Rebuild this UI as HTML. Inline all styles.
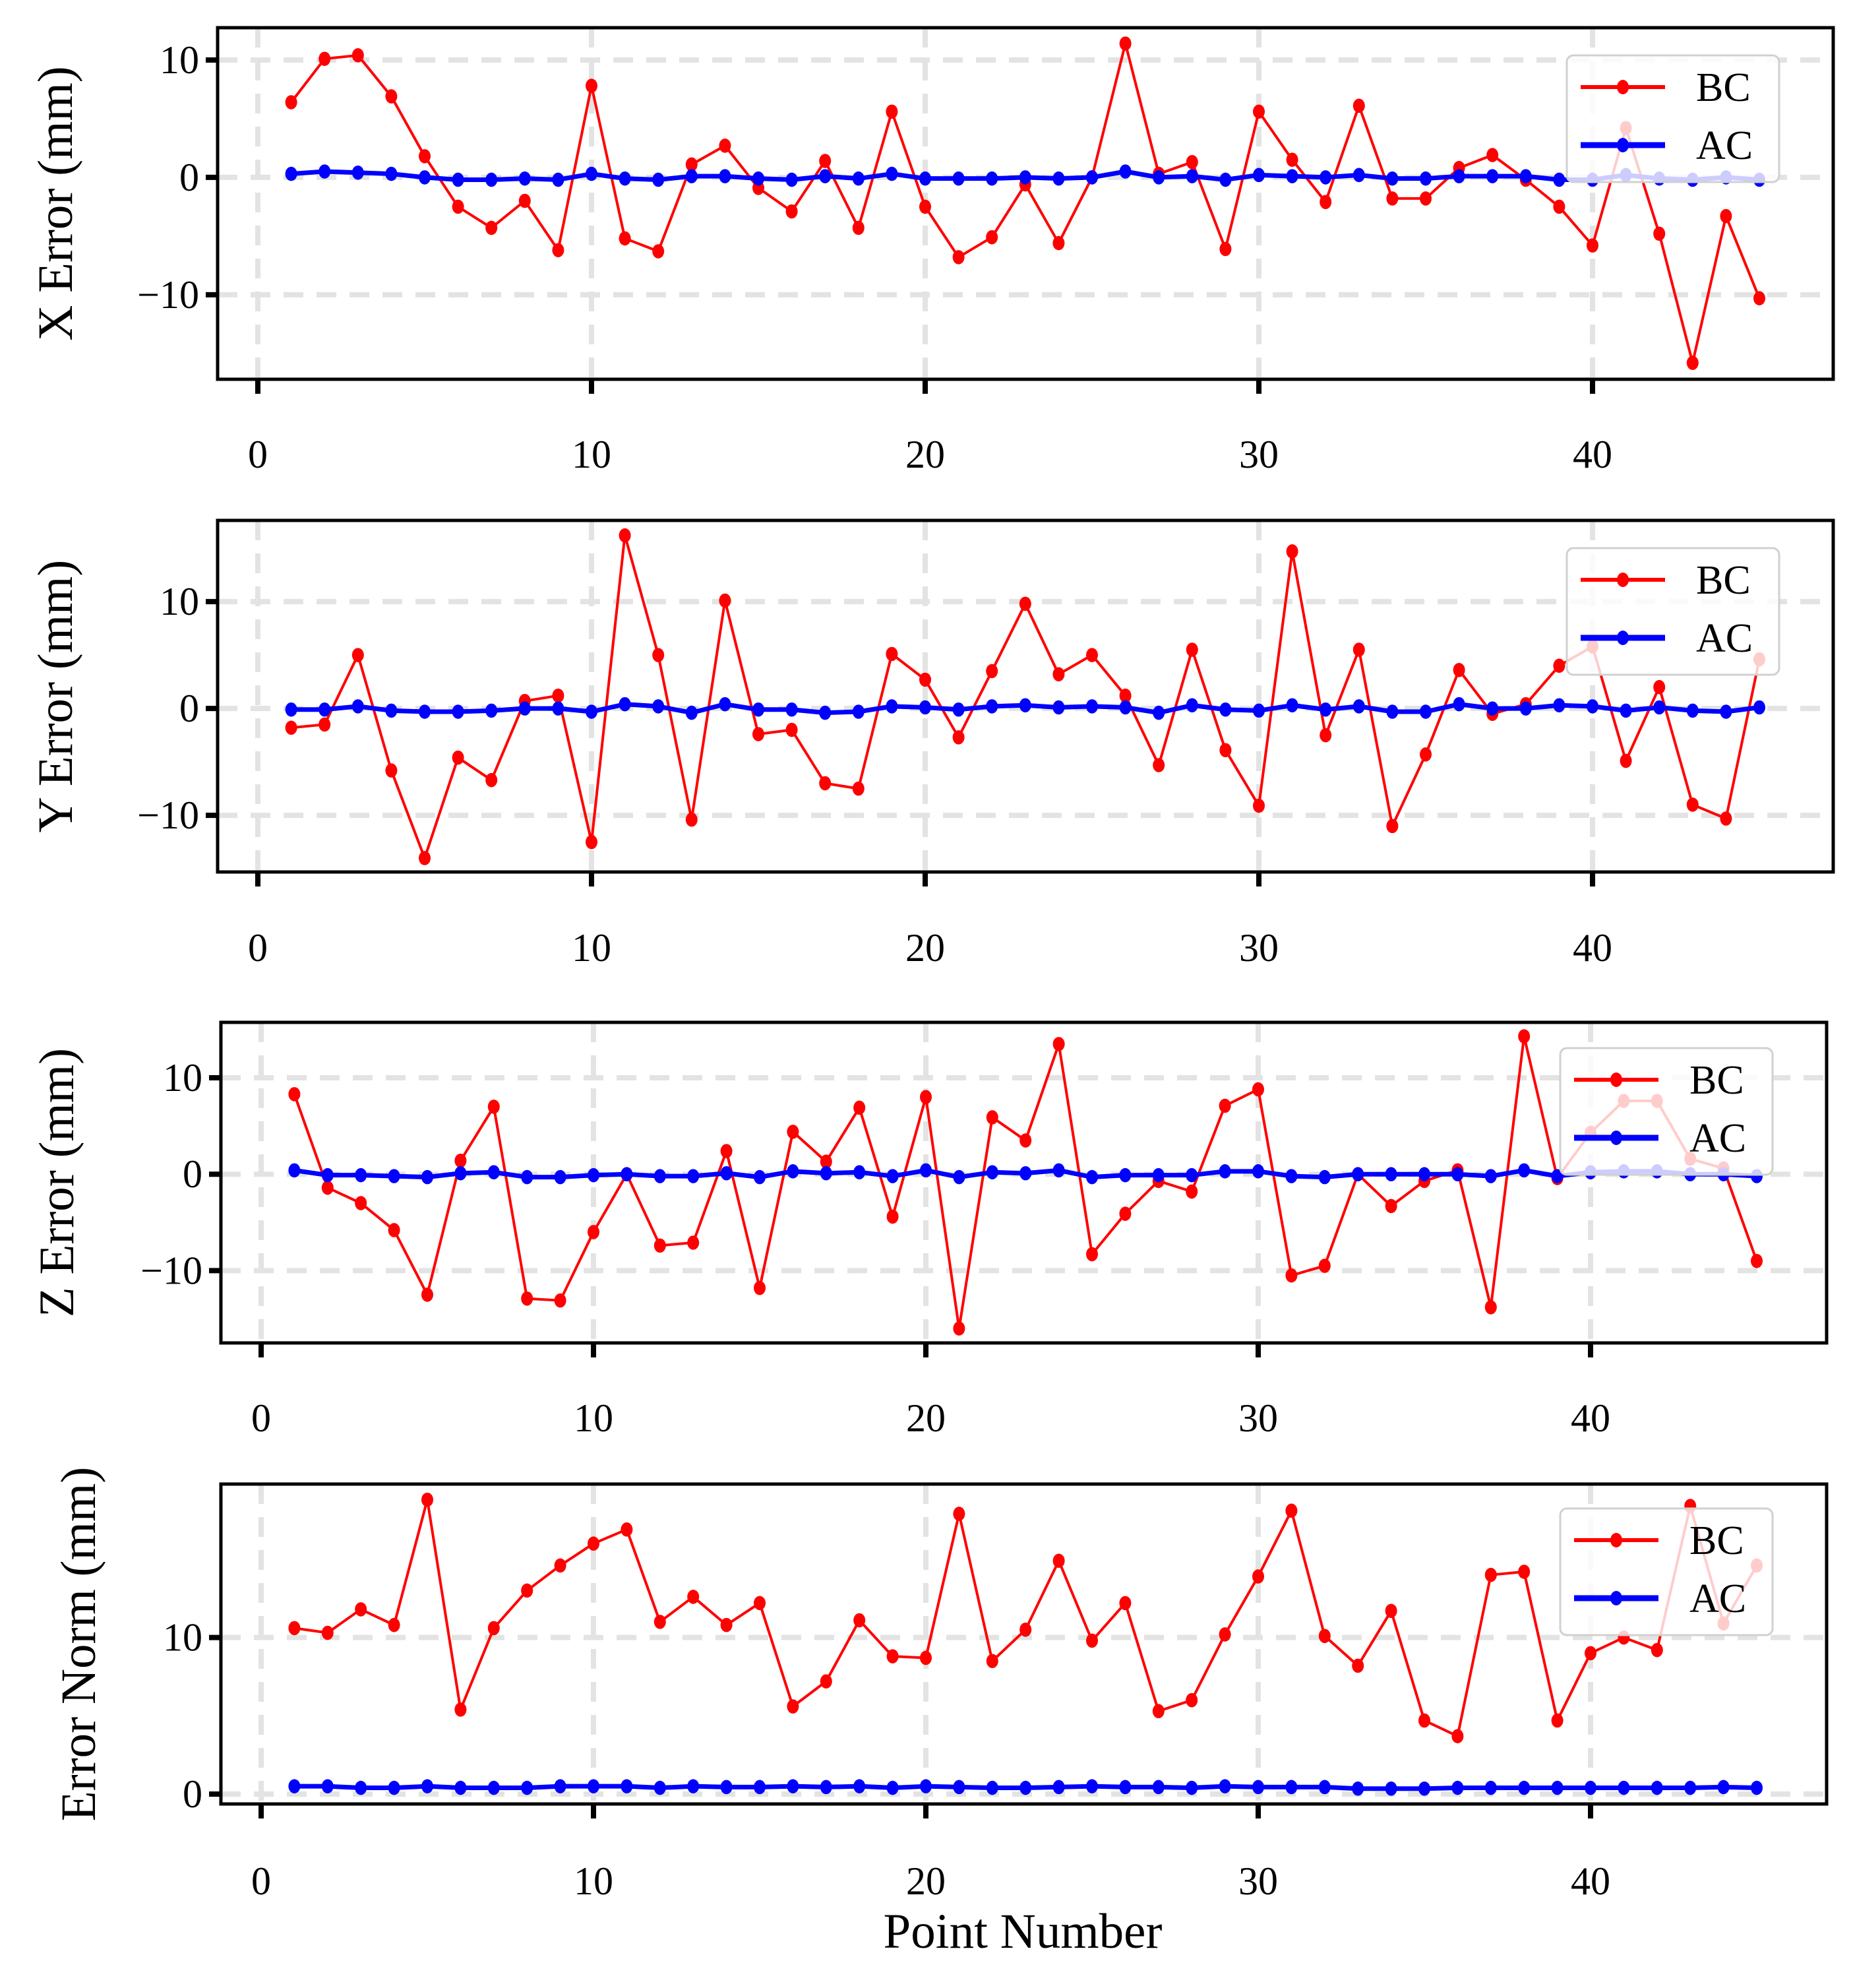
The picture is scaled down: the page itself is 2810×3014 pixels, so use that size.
<!DOCTYPE html>
<html><head><meta charset="utf-8"><style>
html,body{margin:0;padding:0;background:#fff;}
svg{display:block;}
text{font-family:"Liberation Serif","DejaVu Serif",serif;fill:#000;}
</style></head>
<body>
<svg id="fig" width="2810" height="3014" viewBox="0 0 2810 3014" xmlns="http://www.w3.org/2000/svg"></svg>
<script>
const pointNumbers = Array.from({length:45},(_,i)=>i+1);
const xTicks = [0,10,20,30,40];
const xBC = [6.4,10.1,10.4,6.9,1.8,-2.5,-4.3,-2.0,-6.2,7.8,-5.2,-6.3,1.1,2.7,-0.9,-2.9,1.4,-4.3,5.6,-2.5,-6.8,-5.1,-0.6,-5.6,0,11.4,0.3,1.3,-6.1,5.6,1.5,-2.1,6.1,-1.8,-1.8,0.8,1.9,-0.2,-2.5,-5.8,4.2,-4.8,-15.8,-3.3,-10.3];
const xAC = [0.3,0.5,0.4,0.3,0,-0.2,-0.2,-0.1,-0.2,0.3,-0.1,-0.2,0.1,0.1,-0.1,-0.2,0.1,-0.1,0.3,-0.1,-0.1,-0.1,0,-0.1,0,0.5,0,0.1,-0.2,0.2,0.1,0,0.2,-0.1,-0.1,0.1,0.1,0.1,-0.2,-0.2,0.2,-0.1,-0.2,0,-0.2];
const yBC = [-1.8,-1.5,5.0,-5.8,-14,-4.6,-6.7,0.7,1.2,-12.5,16.2,5.0,-10.4,10.1,-2.4,-2.0,-7.0,-7.5,5.1,2.7,-2.7,3.5,9.8,3.2,5.0,1.2,-5.3,5.5,-3.9,-9.1,14.7,-2.5,5.5,-11,-4.3,3.6,-0.5,0.4,4.0,5.8,-4.9,2.0,-9,-10.3,4.6];
const yAC = [-0.1,-0.1,0.2,-0.2,-0.3,-0.3,-0.2,0,0,-0.3,0.4,0.2,-0.4,0.4,-0.1,-0.1,-0.4,-0.3,0.2,0.1,-0.1,0.2,0.3,0.1,0.2,0.1,-0.4,0.3,-0.1,-0.2,0.3,-0.1,0.2,-0.3,-0.3,0.4,0,0,0.3,0.2,-0.2,0.1,-0.2,-0.3,0.1];
const zBC = [8.3,-1.4,-3.0,-5.8,-12.5,1.4,7.0,-12.9,-13.1,-6.0,0,-7.4,-7.1,2.4,-11.8,4.4,1.3,6.9,-4.4,8.0,-16,5.9,3.5,13.5,-8.3,-4.1,-0.7,-1.8,7.1,8.8,-10.5,-9.5,0,-3.3,-0.7,0.4,-13.8,14.3,-0.4,4.3,7.6,7.6,1.6,0.6,-9.0];
const zAC = [0.4,-0.1,-0.1,-0.2,-0.3,0.1,0.2,-0.3,-0.3,-0.1,0,-0.2,-0.2,0.1,-0.3,0.3,0.1,0.2,-0.2,0.4,-0.3,0.2,0.1,0.4,-0.3,-0.1,-0.1,-0.1,0.3,0.3,-0.2,-0.3,0,0,0,0,-0.2,0.4,-0.2,0.2,0.3,0.3,0,0,-0.2];
const nBC = [10.6,10.3,11.8,10.8,18.8,5.4,10.6,13.0,14.6,16.0,16.9,11.0,12.6,10.8,12.2,5.6,7.2,11.1,8.8,8.7,17.9,8.5,10.5,14.9,9.8,12.2,5.3,6.0,10.2,13.9,18.1,10.1,8.2,11.7,4.7,3.7,14.0,14.2,4.7,9.0,10.0,9.2,18.4,10.9,14.6];
const nAC = [0.5,0.5,0.4,0.4,0.5,0.4,0.4,0.4,0.5,0.5,0.5,0.4,0.5,0.45,0.45,0.5,0.45,0.5,0.4,0.5,0.45,0.4,0.4,0.45,0.5,0.45,0.45,0.4,0.5,0.45,0.45,0.45,0.35,0.35,0.35,0.4,0.4,0.4,0.4,0.4,0.4,0.4,0.4,0.45,0.4];
const yTicksXYZ = [-10,0,10];
const yTicksNorm = [0,10];
const yLabels = ["X Error (mm)","Y Error (mm)","Z Error (mm)","Error Norm (mm)"];

const NS = "http://www.w3.org/2000/svg";
const svg = document.getElementById('fig');
function mk(tag, attrs, parent){
  const e = document.createElementNS(NS, tag);
  for (const k in attrs) e.setAttribute(k, attrs[k]);
  (parent||svg).appendChild(e);
  return e;
}
const panels = [
  {name:'x', bc:xBC, ac:xAC, ticks:yTicksXYZ, L:330, R:2780, T:42, B:575, ymin:-17.2, ymax:12.75, x0:391, x40:2415, tickY:689, labX:83, legT:84},
  {name:'y', bc:yBC, ac:yAC, ticks:yTicksXYZ, L:330, R:2780, T:789, B:1322, ymin:-15.3, ymax:17.6, x0:391, x40:2415, tickY:1437, labX:83, legT:831},
  {name:'z', bc:zBC, ac:zAC, ticks:yTicksXYZ, L:335, R:2770, T:1550, B:2036, ymin:-17.5, ymax:15.75, x0:396, x40:2412, tickY:2150, labX:85, legT:1589},
  {name:'norm', bc:nBC, ac:nAC, ticks:yTicksNorm, L:335, R:2770, T:2250, B:2735, ymin:-0.63, ymax:19.8, x0:396, x40:2412, tickY:2852, labX:118, legT:2287}
];
panels.forEach((p,pi)=>{
  const g = mk('g',{});
  
  
  const sx = v => p.x0 + (v/40)*(p.x40-p.x0);
  const sy = v => p.B - (v-p.ymin)/(p.ymax-p.ymin)*(p.B-p.T);
  // grid
  xTicks.forEach(t=>{
    const l = mk('line',{x1:sx(t),x2:sx(t),y1:p.T,y2:p.B,stroke:'#e3e3e3','stroke-width':8,'stroke-dasharray':'30 20'},g);
    
    
  });
  p.ticks.forEach(t=>{
    const l = mk('line',{x1:p.L,x2:p.R,y1:sy(t),y2:sy(t),stroke:'#e3e3e3','stroke-width':8,'stroke-dasharray':'30 20'},g);
    
    
  });
  // series
  const series = [{d:p.bc,c:'#ff0000',w:4,r:9,n:'bc'},{d:p.ac,c:'#0000ff',w:7,r:9,n:'ac'}];
  series.forEach(s=>{
    const pts = s.d.map((v,i)=>sx(pointNumbers[i])+','+sy(v)).join(' ');
    const pl = mk('polyline',{points:pts,fill:'none',stroke:s.c,'stroke-width':s.w,'stroke-linejoin':'round'},g);
    
    
    s.d.forEach((v,i)=>{
      const c = mk('ellipse',{cx:sx(pointNumbers[i]),cy:sy(v),rx:s.r,ry:s.r*1.2,fill:s.c},g);
      
      
    });
  });
  // spines
  const fr = mk('rect',{x:p.L,y:p.T,width:p.R-p.L,height:p.B-p.T,fill:'none',stroke:'#000','stroke-width':5},g);
  
  
  // x ticks
  xTicks.forEach(t=>{
    const tk = mk('line',{x1:sx(t),x2:sx(t),y1:p.B,y2:p.B+22,stroke:'#000','stroke-width':8},g);
    
    
    const tx = mk('text',{x:sx(t),y:p.tickY+20,'font-size':60,'text-anchor':'middle'},g);
    tx.textContent = t;
    
    
  });
  p.ticks.forEach(t=>{
    const tk = mk('line',{x1:p.L-18,x2:p.L,y1:sy(t),y2:sy(t),stroke:'#000','stroke-width':8},g);
    
    
    const tx = mk('text',{x:p.L-28,y:sy(t)+20,'font-size':60,'text-anchor':'end'},g);
    tx.textContent = t<0 ? '\u2212'+Math.abs(t) : t;
    
    
  });
  const yl = mk('text',{x:0,y:0,'font-size':75,'text-anchor':'middle',transform:`translate(${p.labX+26},${(p.T+p.B)/2}) rotate(-90)`},g);
  yl.textContent = yLabels[pi];
  
  
  // legend
  const lg = mk('g',{},g);
  
  
  const lx = p.R-404, ly = p.legT;
  mk('rect',{x:lx,y:ly,width:322,height:192,rx:10,fill:'#fff','fill-opacity':0.8,stroke:'#d0d0d0','stroke-width':3},lg);
  [['BC','#ff0000',4,48],['AC','#0000ff',7,136]].forEach(e=>{
    const eg = mk('g',{},lg);
    
    
    mk('line',{x1:lx+21,x2:lx+149,y1:ly+e[3],y2:ly+e[3],stroke:e[1],'stroke-width':e[2]+2},eg);
    mk('ellipse',{cx:lx+85,cy:ly+e[3],rx:9,ry:11,fill:e[1]},eg);
    const t = mk('text',{x:lx+196,y:ly+e[3]+21,'font-size':62},eg);
    t.textContent = e[0];
  });
});
const xl = mk('text',{x:1551,y:2953,'font-size':75,'text-anchor':'middle'});
xl.textContent = 'Point Number';


</script>
</body></html>
